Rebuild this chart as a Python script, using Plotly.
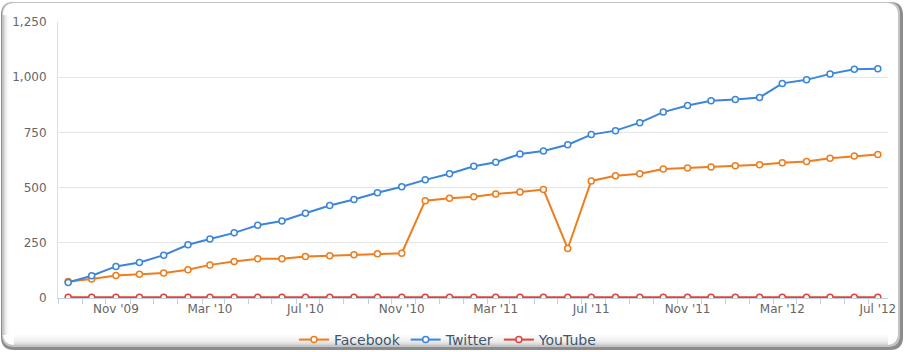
import pandas as pd
import plotly.graph_objects as go

months = pd.date_range("2009-09-01", periods=35, freq="MS")

facebook = [75, 86, 102, 108, 113, 128, 150, 165, 178, 178,
            188, 191, 196, 200, 203, 441, 452, 459, 471, 480,
            491, 224, 530, 554, 563, 584, 589, 593, 599, 604,
            612, 618, 633, 643, 650]
twitter = [70, 101, 143, 161, 194, 241, 267, 295, 330, 349,
           384, 419, 446, 477, 504, 535, 563, 597, 615, 652,
           666, 694, 740, 758, 794, 842, 872, 893, 899, 908,
           972, 988, 1015, 1036, 1038]
youtube = [3] * 35

tick_dates = ["2009-11-01", "2010-03-01", "2010-07-01", "2010-11-01", "2011-03-01",
              "2011-07-01", "2011-11-01", "2012-03-01", "2012-07-01"]
tick_text = ["Nov '09", "Mar '10", "Jul '10", "Nov '10", "Mar '11",
             "Jul '11", "Nov '11", "Mar '12", "Jul '12"]

W, H = 904, 352
L, R, T, B = 58, 16, 22, 54
PW, PH = W - L - R, H - T - B

def px(x):
    return (x - L) / PW

def py(y):
    return (H - B - y) / PH

def rrect(x0, y0, x1, y1, r):
    X0, X1 = px(x0), px(x1)
    Y0, Y1 = py(y0), py(y1)
    rx, ry = r / PW, r / PH
    return (f"M{X0+rx},{Y0} L{X1-rx},{Y0} Q{X1},{Y0} {X1},{Y0-ry} "
            f"L{X1},{Y1+ry} Q{X1},{Y1} {X1-rx},{Y1} L{X0+rx},{Y1} "
            f"Q{X0},{Y1} {X0},{Y1+ry} L{X0},{Y0-ry} Q{X0},{Y0} {X0+rx},{Y0} Z")

shapes = []
shapes.append(dict(type="path", xref="paper", yref="paper", layer="below",
                   path=rrect(1, 2, 903, 350, 13), fillcolor="#8c8c8c", line=dict(width=0)))
shapes.append(dict(type="path", xref="paper", yref="paper", layer="below",
                   path=rrect(2, 2, 900, 347, 12), fillcolor="#c4c4c4", line=dict(width=0)))
shapes.append(dict(type="path", xref="paper", yref="paper", layer="below",
                   path=rrect(3, 3, 898, 345, 12), fillcolor="#ffffff", line=dict(width=0)))
# left bevel gradient
for i, a in enumerate([0.22, 0.14, 0.09, 0.05, 0.03, 0.015]):
    shapes.append(dict(type="rect", xref="paper", yref="paper", layer="below",
                       x0=px(3 + i), x1=px(4 + i), y0=py(335), y1=py(15),
                       fillcolor=f"rgba(0,0,0,{a})", line=dict(width=0)))
# bottom gradient
for i, a in enumerate([0.01, 0.02, 0.03, 0.04, 0.05, 0.06, 0.08, 0.10, 0.13, 0.17]):
    shapes.append(dict(type="rect", xref="paper", yref="paper", layer="below",
                       x0=px(14), x1=px(888), y0=py(336 + i), y1=py(335 + i),
                       fillcolor=f"rgba(0,0,0,{a})", line=dict(width=0)))

fig = go.Figure()
series = [("Facebook", facebook, "#ED7D1E"),
          ("Twitter", twitter, "#3B86DA"),
          ("YouTube", youtube, "#E2423A")]
for name, vals, col in series:
    fig.add_trace(go.Scatter(
        x=months, y=vals, name=name, mode="lines+markers",
        line=dict(color=col, width=2),
        marker=dict(size=6, color="white", line=dict(color=col, width=1.5)),
    ))

fig.update_layout(
    width=W, height=H, autosize=False,
    margin=dict(l=L, r=R, t=T, b=B, autoexpand=False),
    paper_bgcolor="white", plot_bgcolor="rgba(0,0,0,0)",
    font=dict(family="DejaVu Sans", size=12, color="#666666"),
    shapes=shapes,
    showlegend=True,
    legend=dict(orientation="h", xref="container", yref="container",
                x=448 / W, xanchor="center", y=1 - 340 / H, yanchor="middle",
                font=dict(size=14, color="#3E576F"), bgcolor="rgba(0,0,0,0)",
                itemwidth=30, tracegroupgap=0),
    xaxis=dict(
        type="date", range=["2009-08-19", "2012-07-14"],
        tickvals=tick_dates, ticktext=tick_text, ticks="",
        showgrid=False, zeroline=False,
        showline=True, linecolor="#C0D0E0", linewidth=1,
        tickfont=dict(size=12, color="#666666"),
        minor=dict(ticks="outside", ticklen=5, tickcolor="#C0D0E0",
                   tick0="2009-08-19", dtick="M1", showgrid=False),
    ),
    yaxis=dict(
        range=[0, 1250], tickvals=[0, 250, 500, 750, 1000, 1250],
        tickformat=",", showgrid=True, gridcolor="#e6e6e6", gridwidth=1,
        zeroline=False, showline=True, linecolor="#e0e0e0", linewidth=1,
        ticks="", ticklabelstandoff=8,
        tickfont=dict(size=12, color="#666666"),
    ),
)

fig.write_html("out.html")
